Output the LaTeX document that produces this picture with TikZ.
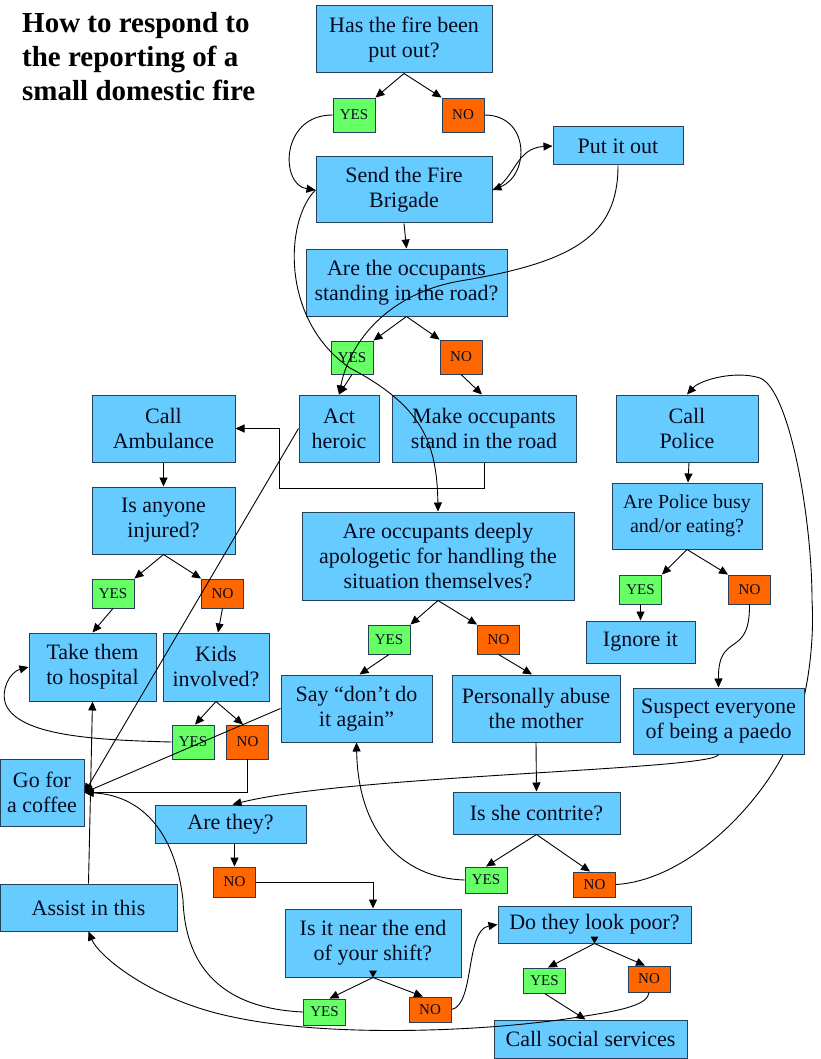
\documentclass[tikz,border=0pt]{standalone}
\usepackage{fontspec}
\setmainfont{Liberation Serif}
\usetikzlibrary{arrows.meta,calc}
\pgfdeclarelayer{bg}
\pgfsetlayers{bg,main}
\definecolor{boxblue}{HTML}{66CCFF}
\definecolor{boxline}{HTML}{26405A}
\definecolor{yesgreen}{HTML}{66FF66}
\definecolor{noorange}{HTML}{FF6600}
\definecolor{txt}{HTML}{0A0A1E}
\begin{document}
\begin{tikzpicture}[x=1pt,y=-1pt,
  box/.style={draw=boxline,fill=boxblue,line width=1pt,inner sep=0pt,align=center,text=txt,font=\fontsize{22}{25}\selectfont},
  lab/.style={draw=boxline,line width=0.9pt,inner sep=0pt,minimum width=42pt,font=\fontsize{15}{15}\selectfont,text=txt},
  yesbox/.style={lab,fill=yesgreen},
  nobox/.style={lab,fill=noorange},
  conn/.style={line width=0.9pt,draw=black},
  arr/.style={conn,-{Triangle[length=9pt,width=8pt]}},
  tip/.style={fill=black}
]
\begin{pgfonlayer}{bg}
\fill[white] (0,0) rectangle (820,1059);
\end{pgfonlayer}
\useasboundingbox (0,0) rectangle (820,1059);

% title
\node[anchor=north west,inner sep=0pt,align=left,font=\bfseries\fontsize{29}{33.8}\selectfont] (title) at (22,12.3)
  {How to respond to\\the reporting of a\\small domestic fire};

% boxes
\node[box,minimum width=176pt,minimum height=67pt] (fire) at (404,39.5) {Has the fire been\\put out?};
\node[yesbox,minimum height=34pt] (yes1) at (354,115) {YES};
\node[nobox,minimum height=34pt] (no1) at (463,115) {NO};
\node[box,minimum width=176pt,minimum height=66pt] (brigade) at (404,190) {Send the Fire\\Brigade};
\node[box,minimum width=130pt,minimum height=38pt] (putout) at (618,146) {Put it out};
\node[box,minimum width=201pt,minimum height=67pt] (occupants) at (406.5,282.5) {Are the occupants\\standing in the road?};
\node[yesbox,minimum height=33pt] (yes2) at (352,357.5) {YES};
\node[nobox,minimum height=34pt] (no2) at (461,357) {NO};
\node[box,minimum width=143pt,minimum height=67pt] (ambulance) at (163.5,428.5) {Call\\Ambulance};
\node[box,minimum width=80pt,minimum height=67pt] (heroic) at (339,428.5) {Act\\heroic};
\node[box,minimum width=184pt,minimum height=67pt] (make) at (484,428.5) {Make occupants\\stand in the road};
\node[box,minimum width=142pt,minimum height=67pt] (police) at (687,428.5) {Call\\Police};
\node[box,minimum width=143pt,minimum height=67pt] (injured) at (163.5,520.5) {Is anyone\\injured?};
\node[box,minimum width=272pt,minimum height=88pt] (apologetic) at (438,556) {Are occupants deeply\\apologetic for handling the\\situation themselves?};
\node[box,minimum width=150pt,minimum height=66pt,font=\fontsize{20}{24}\selectfont] (busy) at (687,516) {Are Police busy\\and/or eating?};
\node[yesbox,minimum height=29pt] (yes3) at (113,593.5) {YES};
\node[nobox,minimum height=29pt] (no3) at (222.5,593.5) {NO};
\node[yesbox,minimum height=29pt] (yes4) at (640.5,589.5) {YES};
\node[nobox,minimum height=29pt] (no4) at (749.5,589.5) {NO};
\node[yesbox,minimum height=29pt] (yes5) at (389,639.5) {YES};
\node[nobox,minimum height=29pt] (no5) at (498.5,639.5) {NO};
\node[box,minimum width=127pt,minimum height=68pt] (hospital) at (92.5,667) {Take them\\to hospital};
\node[box,minimum width=106pt,minimum height=68pt] (kids) at (216,667) {Kids\\involved?};
\node[box,minimum width=109pt,minimum height=42pt] (ignore) at (640.5,642) {Ignore it};
\node[box,minimum width=151pt,minimum height=67pt] (saydont) at (356.5,708.5) {Say “don’t do\\it again”};
\node[box,minimum width=168pt,minimum height=67pt] (abuse) at (536,708.5) {Personally abuse\\the mother};
\node[box,minimum width=171pt,minimum height=66pt] (suspect) at (718.5,721) {Suspect everyone\\of being a paedo};
\node[yesbox,minimum height=34pt] (yes6) at (193,742) {YES};
\node[nobox,minimum height=34pt] (no6) at (247.5,742) {NO};
\node[box,minimum width=84pt,minimum height=67pt] (coffee) at (42,792.5) {Go for\\a coffee};
\node[box,minimum width=167pt,minimum height=42pt] (contrite) at (536.5,813) {Is she contrite?};
\node[box,minimum width=151pt,minimum height=38pt] (arethey) at (230.5,824) {Are they?};
\node[yesbox,minimum height=26pt] (yes7) at (486,880) {YES};
\node[nobox,minimum height=25pt] (no7) at (594.5,884.5) {NO};
\node[nobox,minimum height=30pt] (naret) at (234.5,882) {NO};
\node[box,minimum width=177pt,minimum height=47pt] (assist) at (88.5,907.5) {Assist in this};
\node[box,minimum width=176pt,minimum height=68pt] (shift) at (373,943) {Is it near the end\\of your shift?};
\node[box,minimum width=193pt,minimum height=37pt] (poor) at (594.5,924.5) {Do they look poor?};
\node[yesbox,minimum height=26pt] (yes8) at (324.5,1012) {YES};
\node[nobox,minimum height=25pt] (no8) at (430,1009.5) {NO};
\node[yesbox,minimum height=25pt] (yes9) at (544.5,980.5) {YES};
\node[nobox,minimum height=26pt] (no9) at (649,979) {NO};
\node[box,minimum width=193pt,minimum height=38pt] (social) at (590.5,1039) {Call social services};

% connector hidden behind the "Suspect" box
\begin{pgfonlayer}{bg}
\draw[arr] (no7.east) .. controls (690,880) and (765,800) .. (790,740)
  .. controls (805,710) and (815,650) .. (812,600)
  .. controls (812,520) and (790,390) .. (760,378)
  .. controls (735,370) and (700,380) .. (police.north);
\end{pgfonlayer}

% top part
\draw[arr] (fire.south) -- (yes1.north east);
\draw[arr] (fire.south) -- (no1.north west);
\draw[arr] (yes1.west) .. controls (280,115) and (280,185) .. (brigade.west);
\draw[arr] (no1.east) .. controls (530,115) and (530,175) .. (brigade.east);
\draw[arr] (brigade.east) .. controls (515,180) and (515,148) .. (putout.west);
\draw[arr] (brigade.south) -- (occupants.north);
\draw[arr] (putout.south) .. controls (618,235) and (575,262) .. (460,281)
  .. controls (390,293) and (350,340) .. (heroic.north);
\draw[arr] (occupants.south) -- (yes2.north east);
\draw[arr] (occupants.south) -- (no2.north west);
\draw[arr] (yes2.south) -- (heroic.north);
\draw[arr] (no2.south) -- ($(make.north)+(-2,0)$);
\draw[arr] (brigade.west) .. controls (285,220) and (280,320) .. (350,368)
  .. controls (420,405) and (437,440) .. (apologetic.north);
\draw[arr] (make.south) -- (make.south |- 0,488) -- (279,488) -- (279,428.5) -- (ambulance.east);
\draw[arr] (heroic.west) -- (coffee.east);

% left column
\draw[arr] (ambulance.south) -- (injured.north);
\draw[arr] (injured.south) -- (yes3.north east);
\draw[arr] (injured.south) -- (no3.north west);
\draw[arr] (yes3.south) -- (hospital.north);
\draw[arr] (no3.south) -- ($(kids.north)+(2,0)$);
\draw[arr] (kids.south) -- ($(yes6.north)+(2,0)$);
\draw[arr] (kids.south) -- ($(no6.north)+(-4.5,0)$);
\draw[arr] (yes6.west) .. controls (90,740) and (20,735) .. (6,705)
  .. controls (0,690) and (10,672) .. (hospital.west);
\draw[arr] (no6.south) |- (coffee.east);
\draw[arr] (saydont.west) -- (coffee.east);
\draw[arr] (assist.north) -- (hospital.south);

% right column
\draw[arr] ($(police.south)+(2,0)$) -- ($(busy.north)+(1,0)$);
\draw[arr] (busy.south) -- (yes4.north east);
\draw[arr] (busy.south) -- (no4.north west);
\draw[arr] (yes4.south) -- (ignore.north);
\draw[arr] (no4.south) .. controls (750,660) and (718,630) .. (suspect.north);
\draw[arr] (suspect.south) .. controls (715,770) and (350,775) .. ($(arethey.north)+(2,0)$);

% middle
\draw[arr] (apologetic.south) -- (yes5.north east);
\draw[arr] (apologetic.south) -- (no5.north west);
\draw[arr] (yes5.south) -- ($(saydont.north)+(3,0)$);
\draw[arr] (no5.south) -- ($(abuse.north)+(-4,0)$);
\draw[arr] (abuse.south) -- (contrite.north);
\draw[arr] (contrite.south) -- (yes7.north);
\draw[arr] (contrite.south) -- ($(no7.north)+(-4.5,0)$);
\draw[arr] (yes7.west) .. controls (400,878) and (358,830) .. (saydont.south);

% bottom
\draw[arr] (naret.north |- arethey.south) -- (naret.north);
\draw[arr] (naret.east) -| (shift.north);
\draw[arr] (shift.south) -- ($(yes8.north)+(5,0)$);
\draw[arr] (shift.south) -- ($(no8.north)+(-7,0)$);
\draw[arr] (yes8.west) .. controls (215,1008) and (185,960) .. (183,900)
  .. controls (175,830) and (140,795) .. (coffee.east);
\draw[arr] (no8.east) .. controls (475,1005) and (465,930) .. (poor.west);
\draw[arr] (poor.south) -- ($(yes9.north)+(3.5,0)$);
\draw[arr] (poor.south) -- ($(no9.north)+(-4,0)$);
\draw[arr] (yes9.south) -- ($(social.north)+(-5,0)$);
\draw[arr] (no9.south) .. controls (648,1004) and (625,1010) .. (585,1016)
  .. controls (490,1032) and (330,1038) .. (233,1017)
  .. controls (150,1000) and (98,955) .. (assist.south);

% stray arrow tips at box bottoms
\fill[tip] ($(shift.south)+(-4,-7)$) -- ($(shift.south)+(4,-7)$) -- (shift.south) -- cycle;
\fill[tip] ($(poor.south)+(-4,-7)$) -- ($(poor.south)+(4,-7)$) -- (poor.south) -- cycle;
\end{tikzpicture}
\end{document}
